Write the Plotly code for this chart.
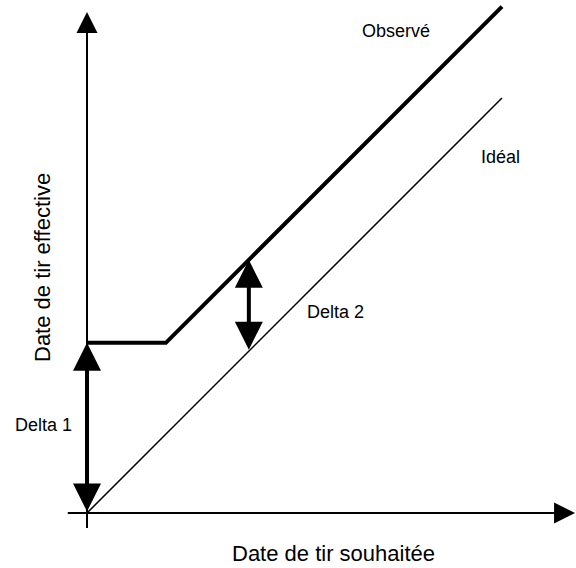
import plotly.graph_objects as go

# Schematic data (abstract units)
ideal_x = [0, 100]
ideal_y = [0, 100]
observed_x = [0, 19, 100]
observed_y = [41, 41, 122]
delta1_x = 0
delta1_y = [0, 41]
delta2_x = 39
delta2_y = [39, 61]
x_axis_extent = [-5, 117.6]
y_axis_extent = [-4, 120.7]

labels = {
    "observed": "Observé",
    "ideal": "Idéal",
    "delta1": "Delta 1",
    "delta2": "Delta 2",
    "xtitle": "Date de tir souhaitée",
    "ytitle": "Date de tir effective",
}

W, H = 576, 568
S = 4.15  # px per unit
OX, OY = 87, 513
FONT = "Liberation Sans, Arial, Helvetica, sans-serif"

fig = go.Figure()
fig.add_trace(go.Scatter(x=ideal_x, y=ideal_y, mode="lines",
                         line=dict(color="black", width=1.5), hoverinfo="skip"))
fig.add_trace(go.Scatter(x=observed_x, y=observed_y, mode="lines",
                         line=dict(color="black", width=4), hoverinfo="skip"))

def arrow(x0, y0, x1, y1, width, size, head, both=False):
    fig.add_annotation(x=x1, y=y1, ax=x0, ay=y0, xref="x", yref="y",
                       axref="x", ayref="y", text="", showarrow=True,
                       arrowhead=head, startarrowhead=head,
                       arrowsize=size, startarrowsize=size,
                       arrowwidth=width, arrowcolor="black",
                       arrowside="end+start" if both else "end",
                       standoff=0, startstandoff=0)

# axes
arrow(x_axis_extent[0], 0, x_axis_extent[1], 0, 2, 2.1, 2)
arrow(0, y_axis_extent[0], 0, y_axis_extent[1], 2, 2.1, 2)
# deltas
arrow(delta1_x, delta1_y[0], delta1_x, delta1_y[1], 4, 1.4, 2, both=True)
arrow(delta2_x, delta2_y[0], delta2_x, delta2_y[1], 4, 1.4, 2, both=True)

def label(text, px, py, size, angle=0):
    fig.add_annotation(x=px / W, y=1 - py / H, xref="paper", yref="paper",
                       text=text, showarrow=False, textangle=angle,
                       xanchor="center", yanchor="middle",
                       font=dict(family=FONT, size=size, color="black"))

label(labels["observed"], 396, 31, 18)
label(labels["ideal"], 500, 157, 18)
label(labels["delta2"], 335, 312, 18)
label(labels["delta1"], 43, 425, 18)
label(labels["xtitle"], 333, 553, 22)
label(labels["ytitle"], 42, 268, 22, angle=-90)

fig.update_layout(
    width=W, height=H, margin=dict(l=0, r=0, t=0, b=0),
    plot_bgcolor="white", paper_bgcolor="white", showlegend=False,
    xaxis=dict(range=[-OX / S, (W - OX) / S], visible=False, fixedrange=True),
    yaxis=dict(range=[-(H - OY) / S, OY / S], visible=False, fixedrange=True),
)
fig.write_html(
    "out.html",
    config={"displayModeBar": False},
    post_script="document.body.style.margin='0';document.body.style.overflow='hidden';",
)
